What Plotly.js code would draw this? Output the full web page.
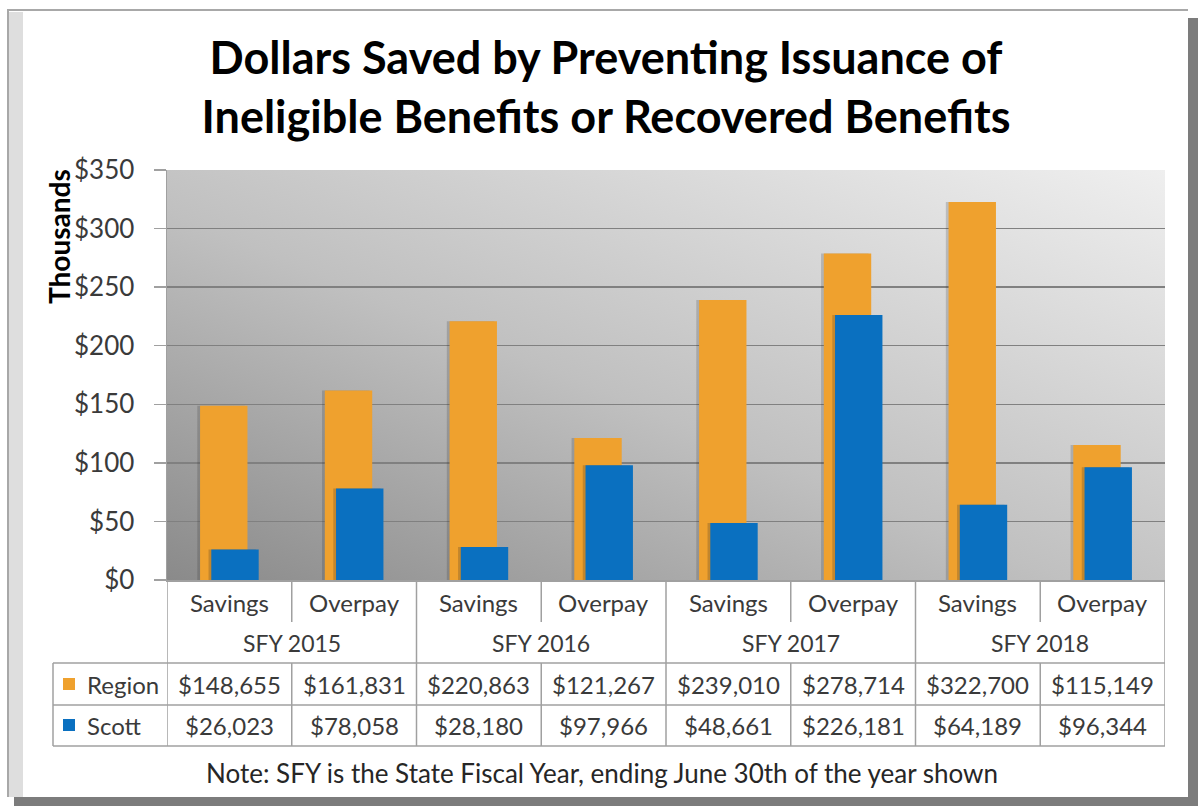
<!DOCTYPE html>
<html>
<head>
<meta charset="utf-8">
<script src="https://cdn.plot.ly/plotly-3.0.1.min.js"></script>
<style>
  html, body { margin: 0; padding: 0; background: #ffffff; }
  #chart { width: 1198px; height: 806px; }
</style>
</head>
<body>
<div id="chart"></div>
<script>
// ---- data ----
const categories = ["Savings", "Overpay", "Savings", "Overpay", "Savings", "Overpay", "Savings", "Overpay"];
const years = ["SFY 2015", "SFY 2016", "SFY 2017", "SFY 2018"];
const regionValues = [148655, 161831, 220863, 121267, 239010, 278714, 322700, 115149];
const scottValues = [26023, 78058, 28180, 97966, 48661, 226181, 64189, 96344];
const seriesNames = ["Region", "Scott"];
const yTickValues = [0, 50, 100, 150, 200, 250, 300, 350];
const yTickLabels = ["$0", "$50", "$100", "$150", "$200", "$250", "$300", "$350"];
const titleText = "Dollars Saved by Preventing Issuance of<br>Ineligible Benefits or Recovered Benefits";
const noteText = "Note: SFY is the State Fiscal Year, ending June 30th of the year shown";

// ---- styling / layout ----
const W = 1198, H = 806;
const L = 167, R = 1165, T = 170, B = 580;
const px = x => (x - L) / (R - L);
const py = y => (B - y) / (B - T);
const ORANGE = "#EFA12E", BLUE = "#0A70C0";
const GRID = "#808080", TBL = "#a0a0a0", TXT = "#3a3a3a";
const FONT = "Lato, 'Open Sans', sans-serif";

const xIdx = categories.map((_, i) => i);
const fmt = v => "$" + v.toLocaleString("en-US");
const BW = 0.38, OFF_R = -0.235, OFF_S = -0.145, SH = 0.022;

const traces = [
  {
    type: "bar", name: "Region shadow", x: xIdx, y: regionValues.map(v => v / 1000),
    width: BW, offset: OFF_R - SH, marker: { color: "rgba(40,40,40,0.2)" }, hoverinfo: "skip"
  },
  {
    type: "bar", name: seriesNames[0], x: xIdx, y: regionValues.map(v => v / 1000),
    width: BW, offset: OFF_R, marker: { color: ORANGE }, hoverinfo: "y+name"
  },
  {
    type: "bar", name: "Scott shadow", x: xIdx, y: scottValues.map(v => v / 1000),
    width: BW, offset: OFF_S - SH, marker: { color: "rgba(40,40,40,0.22)" }, hoverinfo: "skip"
  },
  {
    type: "bar", name: seriesNames[1], x: xIdx, y: scottValues.map(v => v / 1000),
    width: BW, offset: OFF_S, marker: { color: BLUE }, hoverinfo: "y+name"
  }
];

const gradSvg = '<svg xmlns="http://www.w3.org/2000/svg" width="100" height="100" viewBox="0 0 100 100" preserveAspectRatio="none">' +
  '<defs><linearGradient id="g" x1="0" y1="1" x2="1" y2="0">' +
  '<stop offset="0" stop-color="#8a8a8a"/><stop offset="0.45" stop-color="#c0c0c0"/><stop offset="1" stop-color="#efefef"/>' +
  '</linearGradient></defs><rect x="0" y="0" width="100" height="100" fill="url(#g)"/></svg>';

const shapes = [];
const line = (x0, y0, x1, y1, xref, color, w) => shapes.push({
  type: "line", xref: xref, yref: "paper", x0: x0, x1: x1, y0: y0, y1: y1,
  line: { color: color || TBL, width: w || 1.5 }
});
const rect = (x0, y0, x1, y1, fill) => shapes.push({
  type: "rect", xref: "paper", yref: "paper", x0: px(x0), x1: px(x1), y0: py(y0), y1: py(y1),
  fillcolor: fill, line: { width: 0 }
});

// frame
rect(9, 12, 23, 797, "#dedede");
rect(1188, 18, 1198, 806, "#7c7c7c");
rect(14, 797, 1198, 806, "#7c7c7c");
line(px(7), py(10), px(1188), py(10), "paper", "#a8a8a8", 2);
line(px(8), py(10), px(8), py(797), "paper", "#a8a8a8", 2);

// data table grid
[663, 705, 746].forEach(y => line(px(53), py(y), px(R), py(y), "paper"));
line(px(53), py(663), px(53), py(746), "paper");
for (let j = 0; j <= years.length; j++) {
  const xv = 2 * j - 0.5;
  line(xv, py(580), xv, py(746), "x");
}
for (let j = 0; j < years.length; j++) {
  const xv = 2 * j + 0.5;
  line(xv, py(580), xv, py(622), "x");
  line(xv, py(663), xv, py(746), "x");
}
// legend keys
shapes.push({ type: "rect", xref: "paper", yref: "paper", x0: px(63), x1: px(75), y0: py(678), y1: py(690), fillcolor: ORANGE, line: { width: 0 } });
shapes.push({ type: "rect", xref: "paper", yref: "paper", x0: px(63), x1: px(75), y0: py(719), y1: py(731), fillcolor: BLUE, line: { width: 0 } });

const annotations = [];
const ann = (x, y, text, opts) => annotations.push(Object.assign({
  x: x, y: y, xref: "x", yref: "paper", text: text, showarrow: false,
  font: { family: FONT, size: 24, color: TXT }, xanchor: "center", yanchor: "middle"
}, opts || {}));

categories.forEach((c, i) => {
  ann(i, py(602), c);
  ann(i, py(684), fmt(regionValues[i]));
  ann(i, py(725), fmt(scottValues[i]));
});
years.forEach((yv, j) => ann(2 * j + 0.5, py(643), yv, { font: { family: FONT, size: 23, color: TXT } }));
ann(px(85), py(684), seriesNames[0], { xref: "paper", xanchor: "left" });
ann(px(85), py(725), seriesNames[1], { xref: "paper", xanchor: "left" });
ann(px(602), py(773), noteText, { xref: "paper", font: { family: FONT, size: 26, color: "#262626" } });
ann(px(59), py(237), "Thousands", { xref: "paper", textangle: -90, font: { family: FONT, size: 28, color: "#000000", weight: "bold" } });

const layout = {
  width: W, height: H,
  margin: { l: L, r: W - R, t: T, b: H - B, pad: 0 },
  paper_bgcolor: "#ffffff",
  plot_bgcolor: "rgba(0,0,0,0)",
  showlegend: false,
  barmode: "overlay",
  title: {
    text: titleText,
    font: { family: FONT, size: 45, color: "#000000", weight: "bold" },
    x: 606 / W, xref: "container", xanchor: "center", y: 1 - 74 / H, yref: "container", yanchor: "middle"
  },
  xaxis: {
    range: [-0.5, 7.5], showticklabels: false, showgrid: false, zeroline: false,
    showline: true, linecolor: TBL, linewidth: 1.5, ticks: "", fixedrange: true
  },
  yaxis: {
    range: [0, 350], tickmode: "array", tickvals: yTickValues, ticktext: yTickLabels,
    showgrid: true, gridcolor: GRID, gridwidth: 1.5, zeroline: false,
    showline: true, linecolor: TBL, linewidth: 1.5,
    ticks: "outside", ticklen: 12, tickcolor: TBL, tickwidth: 1.5,
    ticklabelstandoff: 14,
    tickfont: { family: FONT, size: 26, color: TXT }, fixedrange: true
  },
  images: [{
    source: "data:image/svg+xml;charset=utf-8," + encodeURIComponent(gradSvg),
    xref: "paper", yref: "paper", x: 0, y: 1, sizex: 1, sizey: 1,
    sizing: "stretch", layer: "below", xanchor: "left", yanchor: "top"
  }],
  shapes: shapes,
  annotations: annotations
};

Plotly.newPlot("chart", traces, layout, { displayModeBar: false, staticPlot: true });
</script>
</body>
</html>
